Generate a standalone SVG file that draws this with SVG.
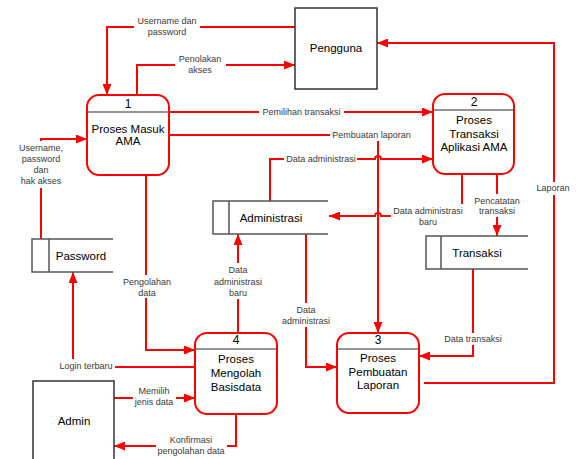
<svg xmlns="http://www.w3.org/2000/svg" width="576" height="459" viewBox="0 0 576 459">
<defs>
<marker id="ah" markerWidth="11" markerHeight="9" refX="11" refY="4.5" orient="auto" markerUnits="userSpaceOnUse"><path d="M0,0 L11,4.5 L0,9 z" fill="#ff0000"/></marker>
<style>
.ln{fill:none;stroke:#ff0000;stroke-width:2}
.lb{font-family:"Liberation Sans",Arial,sans-serif;font-size:9px;fill:#3a3a3a;text-anchor:middle}
.bg{fill:#ffffff}
.ent{fill:#ffffff;stroke:#333333;stroke-width:1.5}
.proc{fill:#ffffff;stroke:#ff0000;stroke-width:2}
.div{stroke:#707070;stroke-width:1.5}
.st{fill:none;stroke:#555555;stroke-width:1.5}
.nt{font-family:"Liberation Sans",Arial,sans-serif;font-size:11.5px;fill:#000000;text-anchor:middle}
.num{font-family:"Liberation Sans",Arial,sans-serif;font-size:12px;fill:#000000;text-anchor:middle}
</style>
</defs>
<rect width="576" height="459" fill="#ffffff"/>
<g id="connectors">
<path class="ln" d="M295,27 H107 V95" marker-end="url(#ah)"/>
<path class="ln" d="M137,95 V65 H295" marker-end="url(#ah)"/>
<path class="ln" d="M169,112 H433" marker-end="url(#ah)"/>
<path class="ln" d="M169,135 H378 V333" marker-end="url(#ah)"/>
<path class="ln" d="M270,201 V159 H375 a3,3 0 0 1 6,0 H433" marker-end="url(#ah)"/>
<path class="ln" d="M462,174 V216 H381 a3,3 0 0 0 -6,0 H329" marker-end="url(#ah)"/>
<path class="ln" d="M497,174 V236" marker-end="url(#ah)"/>
<path class="ln" d="M424,383 H554 V43 H377" marker-end="url(#ah)"/>
<path class="ln" d="M473,269 V356 H419" marker-end="url(#ah)"/>
<path class="ln" d="M306,234 V367 H337" marker-end="url(#ah)"/>
<path class="ln" d="M146,175 V350 H195" marker-end="url(#ah)"/>
<path class="ln" d="M238,333 V234" marker-end="url(#ah)"/>
<path class="ln" d="M195,367 H73 V272" marker-end="url(#ah)"/>
<path class="ln" d="M41,239 V139 H87" marker-end="url(#ah)"/>
<path class="ln" d="M114,398 H195" marker-end="url(#ah)"/>
<path class="ln" d="M236,414 V446 H114" marker-end="url(#ah)"/>
<g id="labels">
<rect class="bg" x="134" y="14" width="66" height="24"/>
<text class="lb" x="167" y="24">Username dan</text>
<text class="lb" x="167" y="35">password</text>
<rect class="bg" x="175" y="52" width="51" height="24"/>
<text class="lb" x="200" y="62">Penolakan</text>
<text class="lb" x="200" y="73">akses</text>
<rect class="bg" x="259" y="106" width="85" height="12"/>
<text class="lb" x="301.5" y="115">Pemilihan transaksi</text>
<rect class="bg" x="330" y="128" width="83" height="13"/>
<text class="lb" x="371.5" y="138">Pembuatan laporan</text>
<rect class="bg" x="284" y="153" width="73" height="12"/>
<text class="lb" x="321" y="161.5">Data administrasi</text>
<rect class="bg" x="391" y="204" width="74" height="24"/>
<text class="lb" x="428" y="214">Data administrasi</text>
<text class="lb" x="428" y="225">baru</text>
<rect class="bg" x="474" y="194" width="46" height="23"/>
<text class="lb" x="497" y="204">Pencatatan</text>
<text class="lb" x="497" y="214">transaksi</text>
<rect class="bg" x="535" y="182" width="37" height="13"/>
<text class="lb" x="553" y="191">Laporan</text>
<rect class="bg" x="443" y="333" width="61" height="12"/>
<text class="lb" x="473" y="342">Data transaksi</text>
<rect class="bg" x="281" y="303" width="50" height="24"/>
<text class="lb" x="306" y="313">Data</text>
<text class="lb" x="306" y="324">administrasi</text>
<rect class="bg" x="121" y="275" width="51" height="23"/>
<text class="lb" x="147" y="284.5">Pengolahan</text>
<text class="lb" x="147" y="295.5">data</text>
<rect class="bg" x="213" y="263" width="51" height="36"/>
<text class="lb" x="238" y="273">Data</text>
<text class="lb" x="238" y="285">administrasi</text>
<text class="lb" x="238" y="296">baru</text>
<rect class="bg" x="56" y="359" width="59" height="14"/>
<text class="lb" x="86" y="369">Login terbaru</text>
<rect class="bg" x="15" y="141" width="52" height="47"/>
<text class="lb" x="41" y="150.5">Username,</text>
<text class="lb" x="41" y="162">password</text>
<text class="lb" x="41" y="173">dan</text>
<text class="lb" x="41" y="184">hak akses</text>
<rect class="bg" x="133" y="386" width="43" height="23"/>
<text class="lb" x="154" y="394">Memilih</text>
<text class="lb" x="154" y="405">jenis data</text>
<rect class="bg" x="156" y="434" width="71" height="23"/>
<text class="lb" x="191" y="443">Konfirmasi</text>
<text class="lb" x="191" y="454">pengolahan data</text>
</g>
</g>
<g id="pengguna">
<rect class="ent" x="295" y="8" width="82" height="81"/>
<text class="nt" x="336" y="52">Pengguna</text>
</g>
<g id="admin">
<rect class="ent" x="33" y="381" width="81" height="90"/>
<text class="nt" x="74" y="425">Admin</text>
</g>
<g id="proses1">
<rect class="proc" x="87" y="95" width="82" height="80" rx="12"/>
<line class="div" x1="88" y1="112" x2="168" y2="112"/>
<text class="num" x="128" y="107.5">1</text>
<text class="nt" x="128" y="132.5">Proses Masuk</text>
<text class="nt" x="128" y="145">AMA</text>
</g>
<g id="proses2">
<rect class="proc" x="433" y="94" width="81" height="80" rx="12"/>
<line class="div" x1="434" y1="110" x2="513" y2="110"/>
<text class="num" x="474" y="105.5">2</text>
<text class="nt" x="474" y="124">Proses</text>
<text class="nt" x="474" y="137.5">Transaksi</text>
<text class="nt" x="474" y="151">Aplikasi AMA</text>
</g>
<g id="proses3">
<rect class="proc" x="337" y="333" width="82" height="80" rx="12"/>
<line class="div" x1="338" y1="349" x2="418" y2="349"/>
<text class="num" x="378" y="343.5">3</text>
<text class="nt" x="378" y="362">Proses</text>
<text class="nt" x="378" y="375.5">Pembuatan</text>
<text class="nt" x="378" y="389">Laporan</text>
</g>
<g id="proses4">
<rect class="proc" x="195" y="333" width="82" height="81" rx="12"/>
<line class="div" x1="196" y1="349" x2="276" y2="349"/>
<text class="num" x="236" y="344">4</text>
<text class="nt" x="236" y="363">Proses</text>
<text class="nt" x="236" y="377">Mengolah</text>
<text class="nt" x="236" y="391">Basisdata</text>
</g>
<g id="password">
<rect x="32" y="239" width="81" height="33" fill="#ffffff"/>
<path class="st" d="M113,239 H32 V272 H113 M49,239 V272"/>
<text class="nt" x="81" y="259.5">Password</text>
</g>
<g id="administrasi">
<rect x="213" y="201" width="115" height="33" fill="#ffffff"/>
<path class="st" d="M328,201 H213 V234 H328 M229,201 V234"/>
<text class="nt" x="271" y="222">Administrasi</text>
</g>
<g id="transaksi">
<rect x="426" y="236" width="102" height="33" fill="#ffffff"/>
<path class="st" d="M528,236 H426 V269 H528 M441,236 V269"/>
<text class="nt" x="477" y="256.5">Transaksi</text>
</g>
</svg>
